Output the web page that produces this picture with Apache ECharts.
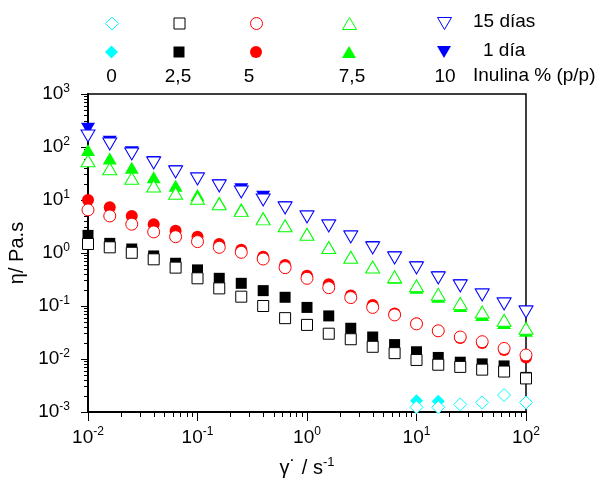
<!DOCTYPE html>
<html>
<head>
<meta charset="utf-8">
<script src="https://cdn.jsdelivr.net/npm/echarts@6/dist/echarts.min.js"></script>
<style>
  html, body { margin: 0; padding: 0; background: #fff; }
  #chart { width: 604px; height: 479px; }
</style>
</head>
<body>
<div id="chart"></div>
<script>
// Shear rate (s^-1), 5 points per decade
const shearRate = [0.01, 0.0158, 0.0251, 0.0398, 0.0631, 0.1, 0.158, 0.251, 0.398, 0.631,
  1, 1.58, 2.51, 3.98, 6.31, 10, 15.8, 25.1, 39.8, 63.1, 100];

// Apparent viscosity (Pa.s) by inulin content, stored 1 day and 15 days
const inulina0_1dia = [null, null, null, null, null, null, null, null, null, null,
  null, null, null, null, null, 0.00163, 0.0016, null, null, null, null];
const inulina0_15dias = [null, null, null, null, null, null, null, null, null, null,
  null, null, null, null, null, 0.00123, 0.00123, 0.00139, 0.00151, 0.00209, 0.00151];

const inulina25_1dia = [2.15, 1.52, 1.19, 0.88, 0.64, 0.48, 0.333, 0.268, 0.195, 0.146,
  0.094, 0.065, 0.038, 0.026, 0.0187, 0.0137, 0.0107, 0.0087, 0.0081, 0.0074, 0.0045];
const inulina25_15dias = [1.48, 1.28, 1.01, 0.76, 0.53, 0.333, 0.215, 0.15, 0.10, 0.059,
  0.044, 0.030, 0.0236, 0.017, 0.0129, 0.0096, 0.0078, 0.0071, 0.0063, 0.0058, 0.0043];

const inulina5_1dia = [10, 7.3, 5.0, 3.5, 2.63, 2.03, 1.48, 1.15, 0.85, 0.594,
  0.373, 0.257, 0.157, 0.105, 0.072, 0.047, 0.034, 0.025, 0.020, 0.0148, 0.0107];
const inulina5_15dias = [6.5, 5.0, 3.5, 2.5, 2.03, 1.64, 1.28, 1.03, 0.77, 0.53,
  0.333, 0.222, 0.144, 0.094, 0.068, 0.046, 0.034, 0.026, 0.0212, 0.0158, 0.0119];

const inulina75_1dia = [88, 61, 40.7, 26.8, 18.6, 12.4, 9.0, 6.8, 4.6, 3.3,
  2.3, 1.3, 0.85, 0.55, 0.34, 0.22, 0.15, 0.10, 0.068, 0.048, 0.034];
const inulina75_15dias = [55, 39, 25.7, 18.4, 13.4, 10.8, 8.5, 6.3, 4.4, 3.26,
  2.26, 1.27, 0.83, 0.545, 0.357, 0.241, 0.166, 0.112, 0.077, 0.054, 0.038];

const inulina10_1dia = [220, 125, 80, 52, 35, 25.5, 19, 16, 11.5, 7.3,
  4.9, 3.3, 2.05, 1.3, 0.83, 0.54, 0.35, 0.245, 0.165, 0.112, 0.079];
const inulina10_15dias = [161, 114, 73.8, 49.9, 33.7, 24.9, 18.4, 14.2, 10.0, 7.06,
  4.78, 3.23, 2.0, 1.24, 0.805, 0.521, 0.337, 0.238, 0.161, 0.109, 0.077];

// Legend texts
const concLabels = ['0', '2,5', '5', '7,5', '10'];
const storageLabels = ['15 días', '1 día'];
const concTitle = 'Inulina % (p/p)';

const FONT = "'Liberation Sans', Arial, sans-serif";
const DOWN_TRIANGLE = 'path://M0,0L14,0L7,12Z';

// Marker style per inulin level
const groups = [
  { conc: concLabels[0], color: '#00ffff', symbol: 'diamond', size: [13, 13], d1: inulina0_1dia, d15: inulina0_15dias },
  { conc: concLabels[1], color: '#000000', symbol: 'rect', size: [11, 11], d1: inulina25_1dia, d15: inulina25_15dias },
  { conc: concLabels[2], color: '#ff0000', symbol: 'circle', size: [12, 12], d1: inulina5_1dia, d15: inulina5_15dias },
  { conc: concLabels[3], color: '#00ff00', symbol: 'triangle', size: [14, 12], d1: inulina75_1dia, d15: inulina75_15dias },
  { conc: concLabels[4], color: '#0000ff', symbol: DOWN_TRIANGLE, size: [14, 12], d1: inulina10_1dia, d15: inulina10_15dias }
];

// Legend layout (icon centres)
const legendX = [111.5, 179, 256, 349, 444];
const legendRowY = { open: 23, filled: 52 };

const pairs = vals => shearRate.map((x, i) => [x, vals[i]]).filter(p => p[1] != null);

const series = [];
const legends = [];
// filled (1 day) first, hollow (15 days) drawn on top
['filled', 'open'].forEach(kind => {
  groups.forEach((g, gi) => {
    const name = g.conc + ' % · ' + (kind === 'open' ? storageLabels[0] : storageLabels[1]);
    const itemStyle = kind === 'open'
      ? { color: '#ffffff', borderColor: g.color, borderWidth: 1, opacity: 1 }
      : { color: g.color, borderWidth: 0, opacity: 1 };
    series.push({
      type: 'scatter',
      name: name,
      xAxisIndex: 0,
      yAxisIndex: 0,
      symbol: g.symbol,
      symbolSize: g.size,
      clip: true,
      itemStyle: itemStyle,
      emphasis: { disabled: true },
      data: pairs(kind === 'open' ? g.d15 : g.d1)
    });
    legends.push({
      data: [{ name: name, icon: g.symbol }],
      left: legendX[gi] - g.size[0] / 2,
      top: legendRowY[kind] - g.size[1] / 2,
      padding: 0,
      itemGap: 0,
      itemWidth: g.size[0],
      itemHeight: g.size[1],
      selectedMode: false,
      formatter: () => '',
      itemStyle: kind === 'open' ? { borderWidth: 1, opacity: 1 } : { opacity: 1 },
      textStyle: { fontSize: 1 }
    });
  });
});

// minor tick positions (log10 units) for the overlay axes
function minorTicks(from, to) {
  const out = [];
  for (let n = from; n < to; n++) {
    for (let k = 2; k <= 9; k++) out.push(n + Math.log10(k));
  }
  return out;
}

const powLabel = v => '{b|10}{s|' + Math.round(Math.log10(v)) + '}';
const labelRich = {
  b: { fontSize: 19, fontFamily: FONT, color: '#000' },
  s: { fontSize: 12, fontFamily: FONT, color: '#000', padding: [0, 0, 11, 0] }
};

const textStyle = { fontFamily: FONT, fontSize: 19, fill: '#000' };
const graphic = [
  { type: 'text', left: 473, top: legendRowY.open - 11, style: Object.assign({ text: storageLabels[0] }, textStyle) },
  { type: 'text', left: 483, top: legendRowY.filled - 11, style: Object.assign({ text: storageLabels[1] }, textStyle) },
  { type: 'text', left: 473, top: 66, style: Object.assign({ text: concTitle }, textStyle) }
];
const concX = [111.5, 178, 249, 352, 445];
concLabels.forEach((t, i) => {
  graphic.push({ type: 'text', x: concX[i], y: 77, style: Object.assign({ text: t, align: 'center', verticalAlign: 'middle' }, textStyle) });
});

const chart = echarts.init(document.getElementById('chart'), null, { renderer: 'canvas' });
chart.setOption({
  animation: false,
  backgroundColor: '#ffffff',
  grid: {
    left: 88, right: 78, top: 94, bottom: 67,
    show: true, borderColor: '#000', borderWidth: 1.5, backgroundColor: 'transparent',
    outerBoundsMode: 'none'
  },
  legend: legends,
  graphic: graphic,
  xAxis: [
    {
      type: 'log', logBase: 10, min: 0.01, max: 100,
      position: 'bottom',
      name: '{t|γ˙ / s}{e|-1}',
      nameLocation: 'middle', nameGap: 44,
      nameTextStyle: {
        rich: {
          t: { fontSize: 20, fontFamily: FONT, color: '#000' },
          e: { fontSize: 13, fontFamily: FONT, color: '#000', padding: [0, 0, 12, 0] }
        }
      },
      axisLine: { show: true, onZero: false, lineStyle: { color: '#000', width: 2 } },
      axisTick: { show: true, inside: false, length: 9, lineStyle: { color: '#000', width: 1 } },
      minorTick: { show: false },
      splitLine: { show: false },
      axisLabel: { margin: 14, formatter: powLabel, rich: labelRich }
    },
    {
      // log-spaced minor ticks (2..9 in each decade)
      type: 'value', min: -2, max: 2,
      position: 'bottom',
      axisLine: { show: false, onZero: false },
      axisLabel: { show: false },
      splitLine: { show: false },
      axisTick: { show: true, inside: false, length: 5, customValues: minorTicks(-2, 2), lineStyle: { color: '#000', width: 1 } }
    }
  ],
  yAxis: [
    {
      type: 'log', logBase: 10, min: 0.001, max: 1000,
      position: 'left',
      name: 'η/ Pa.s',
      nameLocation: 'middle', nameGap: 60,
      nameTextStyle: { fontSize: 20, fontFamily: FONT, color: '#000' },
      axisLine: { show: true, onZero: false, lineStyle: { color: '#000', width: 2 } },
      axisTick: { show: true, inside: false, length: 7, lineStyle: { color: '#000', width: 1 } },
      minorTick: { show: false },
      splitLine: { show: false },
      axisLabel: { margin: 18, formatter: powLabel, rich: labelRich }
    },
    {
      // log-spaced minor ticks (2..9 in each decade)
      type: 'value', min: -3, max: 3,
      position: 'left',
      axisLine: { show: false, onZero: false },
      axisLabel: { show: false },
      splitLine: { show: false },
      axisTick: { show: true, inside: false, length: 4, customValues: minorTicks(-3, 3), lineStyle: { color: '#000', width: 1 } }
    }
  ],
  series: series
});
</script>
</body>
</html>
